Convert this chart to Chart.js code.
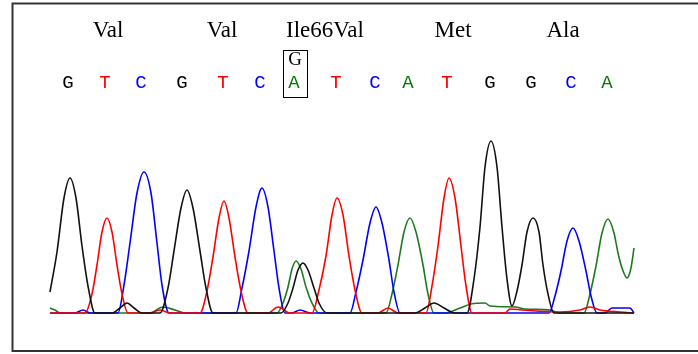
<!DOCTYPE html>
<html>
<head>
<meta charset="utf-8">
<script src="https://cdn.jsdelivr.net/npm/chart.js@4/dist/chart.umd.min.js"></script>
<style>
html,body{margin:0;padding:0;background:#fff;}
canvas{display:block;}
</style>
</head>
<body>
<canvas id="c" width="698" height="354"></canvas>
<script>
// Scan positions (x) and signal heights (y)
const traceG = [[50,21],[57,61],[64,115],[70,135],[76,115],[82,67],[88,27],[95,0],[112,0],[120,5],[127,10],[134,5],[142,0],[160,0],[168,25],[174,62],[181,105],[187,123],[193,105],[200,62],[206,25],[213,0],[281,0],[288,10],[293,25],[298,43],[303,50],[308,43],[314,25],[319,10],[327,0],[415,0],[425,5],[434,10],[444,5],[455,0],[467,0],[474,34],[480,86],[485,146],[491,172],[497,146],[502,86],[507,34],[512,7],[517,22],[522,48],[527,81],[533,95],[539,81],[543,48],[548,19],[554,0],[634,0]];
const traceT = [[50,0],[85,0],[92,19],[97,48],[102,81],[107,95],[112,81],[117,48],[122,19],[128,0],[150,0],[160,3],[170,0],[200,0],[207,22],[213,56],[219,95],[224,112],[229,95],[235,56],[241,22],[248,0],[268,0],[278,6],[290,0],[312,0],[319,23],[326,57],[332,98],[337,115],[343,98],[349,57],[355,23],[362,0],[378,0],[388,5],[398,0],[426,0],[432,27],[438,67],[444,115],[449,135],[455,115],[461,67],[466,27],[472,0],[505,0],[510,4],[522,3],[560,1],[580,3],[590,6],[600,3],[620,1],[634,0]];
const traceC = [[50,0],[75,0],[83,3],[90,0],[118,0],[124,28],[130,70],[137,120],[144,141],[151,120],[157,70],[162,28],[169,0],[236,0],[242,25],[249,62],[256,106],[262,125],[268,106],[274,62],[279,25],[285,0],[292,0],[300,3],[310,0],[350,0],[356,21],[363,53],[370,90],[376,106],[382,90],[389,53],[394,21],[400,0],[549,0],[555,17],[561,42],[567,72],[573,85],[579,72],[586,42],[591,17],[597,0],[605,0],[612,5],[630,5],[634,0]];
const traceA = [[50,5],[55,3],[60,0],[150,0],[163,6],[175,3],[185,0],[277,0],[283,10],[288,26],[292,44],[296,52],[301,44],[306,26],[312,10],[319,0],[386,0],[392,19],[398,48],[404,81],[410,95],[416,81],[423,48],[428,19],[434,0],[445,0],[460,5],[471,9],[485,10],[490,7],[515,6],[525,4],[550,3],[560,0],[584,0],[590,19],[596,47],[602,80],[608,94],[614,80],[618,60],[622,45],[627,35],[631,45],[634,65]];

const bases = ['G','T','C','G','T','C','A','T','C','A','T','G','G','C','A'];
const basePos = [68,105,141,182,223,260,294,336,375,408,447,490,531,571,607];
const aminoAcids = ['Val','Val','Ile66Val','Met','Ala'];
const aminoPos = [108,222,325,453,563];
const variantBase = 'G';
const variantIndex = 6;

const baseColors = {G:'#000000', T:'#ff0000', C:'#0000ff', A:'#007a00'};

const toPts = arr => arr.map(p => ({x:p[0], y:p[1]}));

const overlay = {
  id:'overlay',
  afterDraw(chart){
    const ctx = chart.ctx;
    const xs = chart.scales.x;
    ctx.save();
    // frame
    ctx.strokeStyle = '#333';
    ctx.lineWidth = 2;
    ctx.beginPath();
    ctx.moveTo(698,3.5); ctx.lineTo(12.5,3.5); ctx.lineTo(12.5,351); ctx.lineTo(698,351);
    ctx.stroke();
    // amino acids
    ctx.fillStyle = '#000';
    ctx.font = "23px 'Liberation Serif'";
    ctx.textAlign = 'center';
    ctx.textBaseline = 'alphabetic';
    aminoAcids.forEach((a,i)=>{ ctx.fillText(a, xs.getPixelForValue(aminoPos[i]), 37); });
    // bases
    ctx.font = "19px 'Liberation Mono'";
    bases.forEach((b,i)=>{
      ctx.fillStyle = baseColors[b];
      ctx.fillText(b, xs.getPixelForValue(basePos[i]), 88);
    });
    // variant box
    const bx = xs.getPixelForValue(basePos[variantIndex]);
    ctx.strokeStyle = '#000';
    ctx.lineWidth = 1;
    ctx.strokeRect(Math.round(bx-11)+0.5, 50.5, 24, 47);
    ctx.fillStyle = '#000';
    ctx.font = "19px 'Liberation Serif'";
    ctx.fillText(variantBase, bx+1, 65);
    ctx.restore();
  }
};

const mk = (data,color) => ({data:toPts(data), borderColor:color, borderWidth:1.6, pointRadius:0, fill:false, cubicInterpolationMode:'monotone', clip:false});

new Chart(document.getElementById('c'), {
  type:'line',
  data:{datasets:[
    mk(traceG,'#111111'),
    mk(traceT,'#ff0000'),
    mk(traceC,'#0000ff'),
    mk(traceA,'#1f7a1f')
  ]},
  options:{
    responsive:false,
    devicePixelRatio:1,
    animation:false,
    events:[],
    layout:{padding:{left:50,right:64,top:130,bottom:41}},
    plugins:{legend:{display:false},tooltip:{enabled:false}},
    scales:{
      x:{type:'linear',min:50,max:634,display:false},
      y:{min:0,max:183,display:false}
    }
  },
  plugins:[overlay]
});
</script>
</body>
</html>
